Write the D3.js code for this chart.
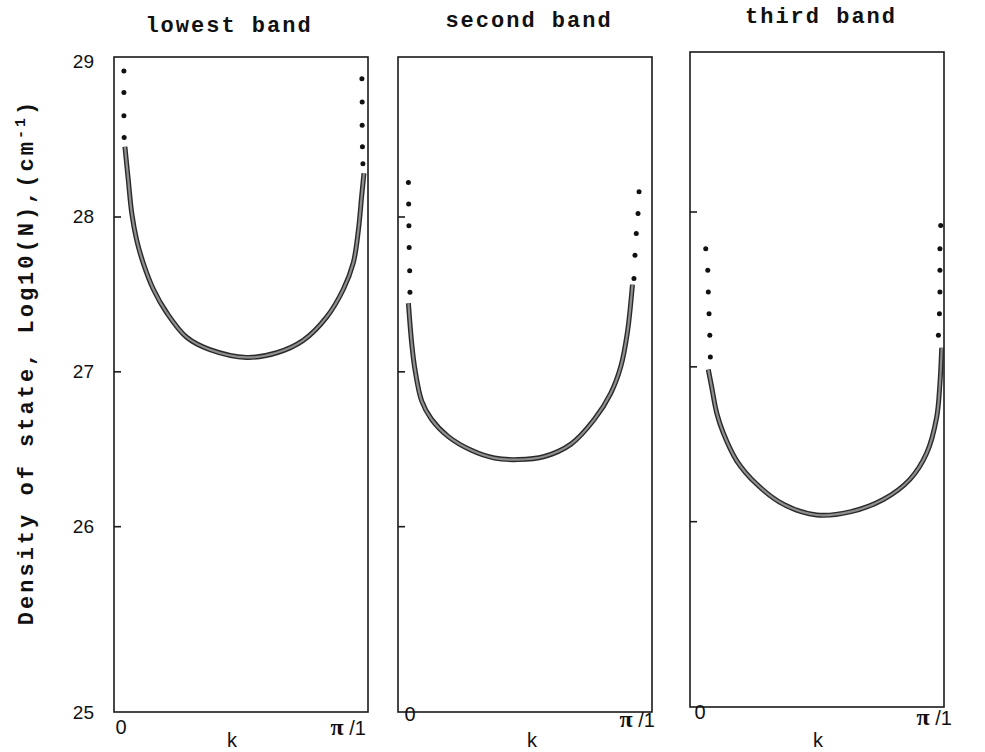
<!DOCTYPE html>
<html>
<head>
<meta charset="utf-8">
<script src="https://cdn.jsdelivr.net/npm/d3@7"></script>
<style>
  body { margin: 0; background: #fff; }
  .title { font-family: "Liberation Mono", "DejaVu Sans Mono", monospace; font-weight: bold; font-size: 22px; letter-spacing: 2px; fill: #111; }
  .ylab { font-family: "Liberation Mono", "DejaVu Sans Mono", monospace; font-weight: bold; font-size: 22px; letter-spacing: 3px; fill: #111; }
  .tick-label { font-family: "Liberation Sans", Arial, sans-serif; font-size: 19px; fill: #111; }
  .x-label { font-family: "Liberation Sans", Arial, sans-serif; font-size: 20px; fill: #111; }
  .pi { font-family: "Liberation Serif", serif; font-weight: bold; font-size: 24px; }
</style>
</head>
<body>
<div id="svg-area"></div>
<script>
// ---- data (k as fraction of pi/l, value = log10 N) ----
var bandTitles = ["lowest band", "second band", "third band"];

var lowestK = [0.043, 0.056, 0.070, 0.089, 0.115, 0.155, 0.207, 0.286, 0.378, 0.522, 0.641, 0.745, 0.837, 0.903, 0.942, 0.962, 0.975, 0.984];
var lowestN = [28.45, 28.24, 28.02, 27.85, 27.70, 27.53, 27.38, 27.22, 27.14, 27.09, 27.12, 27.20, 27.35, 27.53, 27.70, 27.91, 28.13, 28.28];

var secondK = [0.041, 0.054, 0.067, 0.093, 0.132, 0.197, 0.289, 0.380, 0.472, 0.576, 0.681, 0.773, 0.838, 0.877, 0.903, 0.923];
var secondN = [27.44, 27.18, 27.01, 26.81, 26.69, 26.58, 26.49, 26.44, 26.43, 26.45, 26.53, 26.69, 26.86, 27.03, 27.25, 27.56];

var thirdK = [0.072, 0.085, 0.105, 0.131, 0.184, 0.262, 0.367, 0.499, 0.630, 0.761, 0.866, 0.932, 0.971, 0.984, 0.991];
var thirdN = [26.98, 26.87, 26.70, 26.57, 26.39, 26.24, 26.11, 26.04, 26.06, 26.14, 26.27, 26.44, 26.67, 26.89, 27.12];

// dotted continuation above the curve ends
var lowestDotsLeftK = [0.039, 0.039, 0.039, 0.040];
var lowestDotsLeftN = [28.94, 28.80, 28.65, 28.51];
var lowestDotsRightK = [0.976, 0.977, 0.977, 0.978, 0.980];
var lowestDotsRightN = [28.89, 28.74, 28.59, 28.45, 28.34];

var secondDotsLeftK = [0.041, 0.042, 0.043, 0.044, 0.046, 0.047];
var secondDotsLeftN = [28.22, 28.08, 27.94, 27.80, 27.65, 27.51];
var secondDotsRightK = [0.949, 0.945, 0.938, 0.933, 0.929];
var secondDotsRightN = [28.16, 28.02, 27.89, 27.75, 27.60];

var thirdDotsLeftK = [0.062, 0.070, 0.072, 0.075, 0.078, 0.080];
var thirdDotsLeftN = [27.76, 27.62, 27.48, 27.34, 27.20, 27.06];
var thirdDotsRightK = [0.987, 0.984, 0.984, 0.984, 0.982, 0.978];
var thirdDotsRightN = [27.91, 27.76, 27.62, 27.48, 27.34, 27.20];

var yTickValues = [26, 27, 28];
var yLabelValues = [25, 26, 27, 28, 29];
var yDomain = [24.8, 29.03];

var bands = [
  { k: lowestK, n: lowestN, dl: [lowestDotsLeftK, lowestDotsLeftN], dr: [lowestDotsRightK, lowestDotsRightN] },
  { k: secondK, n: secondN, dl: [secondDotsLeftK, secondDotsLeftN], dr: [secondDotsRightK, secondDotsRightN] },
  { k: thirdK, n: thirdN, dl: [thirdDotsLeftK, thirdDotsLeftN], dr: [thirdDotsRightK, thirdDotsRightN] }
];

// ---- layout ----
var svgWidth = 985;
var svgHeight = 752;
var panelX = [114, 398, 690];
var panelY = [57, 57, 52];
var panelWidth = 254;
var panelHeight = 655;
var titleY = [32, 27, 23];
var titleShift = [-12, 4, 4];
var zeroLabelShift = [7, 12, 10];
var zeroLabelY = [734, 721, 719];
var piLabelY = [735, 727, 725];
var piLabelShift = [-2, 3, 8];
var kLabelFrac = [0.465, 0.528, 0.504];

var svg = d3.select("#svg-area")
  .append("svg")
  .attr("width", svgWidth)
  .attr("height", svgHeight);

var xScale = d3.scaleLinear().domain([0, 1]).range([0, panelWidth]);
var yScale = d3.scaleLinear().domain(yDomain).range([panelHeight, 0]);

var line = d3.line()
  .x(d => xScale(d[0]))
  .y(d => yScale(d[1]))
  .curve(d3.curveCatmullRom.alpha(0.5));

bands.forEach(function(band, i) {
  var g = svg.append("g")
    .attr("transform", `translate(${panelX[i]}, ${panelY[i]})`);

  // frame
  g.append("rect")
    .attr("width", panelWidth)
    .attr("height", panelHeight)
    .attr("fill", "none")
    .attr("stroke", "#1a1a1a")
    .attr("stroke-width", 1.6);

  // inward ticks on the left edge
  var tickAxis = g.append("g")
    .call(d3.axisRight(yScale).tickValues(yTickValues).tickSize(7).tickFormat(""));
  tickAxis.select(".domain").remove();
  tickAxis.selectAll("line").attr("stroke", "#1a1a1a").attr("stroke-width", 1.6);

  // curve, drawn as a double line (dark outline, grey core)
  var pts = band.k.map((k, j) => [k, band.n[j]]);
  g.append("path")
    .attr("d", line(pts))
    .attr("fill", "none")
    .attr("stroke", "#2a2a2a")
    .attr("stroke-width", 5);
  g.append("path")
    .attr("d", line(pts))
    .attr("fill", "none")
    .attr("stroke", "#8f8f8f")
    .attr("stroke-width", 2.2);

  // dots
  [band.dl, band.dr].forEach(function(d) {
    g.selectAll(null)
      .data(d[0].map((k, j) => [k, d[1][j]]))
      .enter()
      .append("circle")
      .attr("cx", p => xScale(p[0]))
      .attr("cy", p => yScale(p[1]))
      .attr("r", 2.5)
      .attr("fill", "#111");
  });

  // title
  svg.append("text")
    .attr("class", "title")
    .attr("x", panelX[i] + panelWidth / 2 + titleShift[i])
    .attr("y", titleY[i])
    .attr("text-anchor", "middle")
    .text(bandTitles[i]);

  // x labels: 0 ... pi/l, and k underneath
  svg.append("text")
    .attr("class", "x-label")
    .attr("x", panelX[i] + xScale(0) + zeroLabelShift[i])
    .attr("y", zeroLabelY[i])
    .attr("text-anchor", "middle")
    .text("0");
  var piText = svg.append("text")
    .attr("class", "x-label")
    .attr("x", panelX[i] + xScale(1) + piLabelShift[i])
    .attr("y", piLabelY[i])
    .attr("text-anchor", "end");
  piText.append("tspan").attr("class", "pi").text("\u03c0");
  piText.append("tspan").text(" /1");
  svg.append("text")
    .attr("class", "x-label")
    .attr("x", panelX[i] + xScale(kLabelFrac[i]))
    .attr("y", 747)
    .attr("text-anchor", "middle")
    .text("k");
});

// y tick labels (the bottom one sits on the frame edge as in the original)
svg.selectAll(".ylabel-num")
  .data(yLabelValues)
  .enter()
  .append("text")
  .attr("class", "tick-label")
  .attr("x", 94)
  .attr("y", d => panelY[0] + (d == yLabelValues[0] ? panelHeight : yScale(d)))
  .attr("dy", "0.36em")
  .attr("text-anchor", "end")
  .text(d => d);

// y axis title
var ytitle = svg.append("text")
  .attr("class", "ylab")
  .attr("transform", "translate(33, 362) rotate(-90)")
  .attr("text-anchor", "middle");
ytitle.append("tspan").text("Density of state, Log10(N),(cm");
ytitle.append("tspan").attr("dy", -8).attr("font-size", "15px").text("-1");
ytitle.append("tspan").attr("dy", 8).text(")");
</script>
</body>
</html>
